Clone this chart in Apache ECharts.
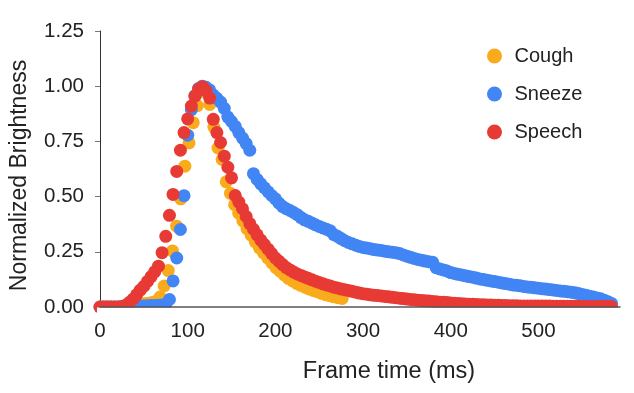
<!DOCTYPE html>
<html>
<head>
<meta charset="utf-8">
<script src="https://cdn.jsdelivr.net/npm/echarts@6/dist/echarts.min.js"></script>
<style>
  html, body { margin: 0; padding: 0; background: #fff; }
  #chart { width: 634px; height: 393px; }
</style>
</head>
<body>
<div id="chart"></div>
<script>
// frame times (ms) for sneeze + speech recordings
var frameTime = [
  0, 4.2, 8.3, 12.5, 16.7, 20.8, 25, 29.2, 33.3, 37.5,
  41.7, 45.8, 50, 54.2, 58.3, 62.5, 66.7, 70.8, 75, 79.2,
  83.3, 87.5, 91.7, 95.8, 100, 104.2, 108.3, 112.5, 116.7, 120.8,
  125, 129.2, 133.3, 137.5, 141.7, 145.8, 150, 154.2, 158.3, 162.5,
  166.7, 170.8, 175, 179.2, 183.3, 187.5, 191.7, 195.8, 200, 204.2,
  208.3, 212.5, 216.7, 220.8, 225, 229.2, 233.3, 237.5, 241.7, 245.8,
  250, 254.2, 258.3, 262.5, 266.7, 270.8, 275, 279.2, 283.3, 287.5,
  291.7, 295.8, 300, 304.2, 308.3, 312.5, 316.7, 320.8, 325, 329.2,
  333.3, 337.5, 341.7, 345.8, 350, 354.2, 358.3, 362.5, 366.7, 370.8,
  375, 379.2, 383.3, 387.5, 391.7, 395.8, 400, 404.2, 408.3, 412.5,
  416.7, 420.8, 425, 429.2, 433.3, 437.5, 441.7, 445.8, 450, 454.2,
  458.3, 462.5, 466.7, 470.8, 475, 479.2, 483.3, 487.5, 491.7, 495.8,
  500, 504.2, 508.3, 512.5, 516.7, 520.8, 525, 529.2, 533.3, 537.5,
  541.7, 545.8, 550, 554.2, 558.3, 562.5, 566.7, 570.8, 575, 579.2,
  583.3
];
var sneeze = [
  0, 0, 0, 0, 0, 0, 0, 0, 0, 0.001,
  0.003, 0.004, 0.005, 0.006, 0.007, 0.007, 0.008, 0.009, 0.012, 0.034,
  0.118, 0.222, 0.351, 0.504, 0.778, 0.894, 0.957, 0.99, 1.0, 0.995,
  0.983, 0.96, 0.945, 0.928, 0.9, 0.86, 0.84, 0.818, 0.79, 0.765,
  0.74, 0.71, 0.604, 0.578, 0.558, 0.54, 0.522, 0.505, 0.49, 0.47,
  0.455, 0.445, 0.437, 0.428, 0.418, 0.405, 0.395, 0.388, 0.38, 0.372,
  0.365, 0.358, 0.352, 0.345, 0.328, 0.32, 0.31, 0.3, 0.292, 0.286,
  0.28, 0.274, 0.27, 0.267, 0.264, 0.26, 0.258, 0.256, 0.253, 0.25,
  0.248, 0.246, 0.242, 0.236, 0.23, 0.225, 0.22, 0.215, 0.212, 0.208,
  0.205, 0.203, 0.178, 0.172, 0.168, 0.163, 0.156, 0.152, 0.148, 0.145,
  0.141, 0.138, 0.135, 0.131, 0.127, 0.124, 0.121, 0.118, 0.115, 0.112,
  0.109, 0.106, 0.103, 0.1, 0.098, 0.096, 0.093, 0.091, 0.089, 0.087,
  0.085, 0.083, 0.081, 0.079, 0.077, 0.075, 0.073, 0.071, 0.069, 0.067,
  0.064, 0.061, 0.057, 0.053, 0.049, 0.045, 0.041, 0.037, 0.031, 0.024,
  0.016
];
var speech = [
  0, 0, 0, 0, 0, 0, 0.002, 0.008, 0.02, 0.035,
  0.055, 0.076, 0.094, 0.116, 0.138, 0.16, 0.185, 0.246, 0.32, 0.415,
  0.51, 0.614, 0.71, 0.79, 0.852, 0.91, 0.955, 0.987, 0.998, 0.98,
  0.946, 0.85, 0.79, 0.745, 0.683, 0.633, 0.585, 0.505, 0.475, 0.445,
  0.41, 0.378, 0.352, 0.327, 0.303, 0.283, 0.262, 0.242, 0.222, 0.207,
  0.192, 0.178, 0.168, 0.158, 0.15, 0.143, 0.136, 0.13, 0.123, 0.117,
  0.111, 0.105, 0.1, 0.095, 0.09, 0.086, 0.082, 0.078, 0.075, 0.071,
  0.067, 0.063, 0.06, 0.058, 0.055, 0.053, 0.052, 0.05, 0.048, 0.046,
  0.044, 0.042, 0.04, 0.038, 0.036, 0.034, 0.033, 0.031, 0.03, 0.028,
  0.027, 0.025, 0.024, 0.022, 0.021, 0.02, 0.018, 0.017, 0.016, 0.015,
  0.014, 0.013, 0.012, 0.011, 0.01, 0.01, 0.009, 0.009, 0.008, 0.008,
  0.007, 0.007, 0.006, 0.006, 0.006, 0.005, 0.005, 0.005, 0.005, 0.004,
  0.004, 0.004, 0.004, 0.004, 0.003, 0.003, 0.003, 0.003, 0.003, 0.003,
  0.003, 0.003, 0.002, 0.002, 0.002, 0.002, 0.002, 0.002, 0.002, 0.002,
  0.002
];
// cough recording has its own frame times
var coughTime = [
  2.4, 7.1, 11.8, 16.5, 21.3, 26, 30.7, 35.4, 40.2, 44.9,
  49.6, 54.3, 59.1, 63.8, 68.5, 73.2, 77.9, 82.7, 87.4, 92.1,
  96.8, 101.5, 106.3, 111, 115.7, 120.4, 125.1, 129.9, 134.6, 139.3,
  144, 148.7, 153.5, 158.2, 162.9, 167.6, 172.4, 177.1, 181.8, 186.5,
  191.2, 196, 200.7, 205.4, 210.1, 214.8, 219.6, 224.3, 229, 233.7,
  238.4, 243.2, 247.9, 252.6, 257.3, 262, 266.8, 271.5, 276.2
];
var cough = [
  0, 0, 0, 0, 0, 0, 0, 0, 0.005, 0.012,
  0.015, 0.017, 0.02, 0.025, 0.045, 0.095, 0.165, 0.254, 0.366, 0.49,
  0.638, 0.743, 0.835, 0.912, 0.975, 0.995, 0.917, 0.815, 0.72, 0.668,
  0.567, 0.515, 0.463, 0.425, 0.39, 0.355, 0.325, 0.295, 0.268, 0.245,
  0.222, 0.2, 0.178, 0.162, 0.145, 0.13, 0.118, 0.107, 0.098, 0.09,
  0.082, 0.075, 0.069, 0.062, 0.056, 0.051, 0.046, 0.042, 0.039
];
var seriesNames = ['Cough', 'Sneeze', 'Speech'];
var colors = ['#f9ab1c', '#4285f4', '#e83a35'];

function pairs(xs, ys) {
  var out = [];
  for (let i = 0; i < ys.length; i++) out.push([xs[i], ys[i]]);
  return out;
}

var font = 'Liberation Sans, Arial, sans-serif';
var gridBottom = 86;

var chart = echarts.init(document.getElementById('chart'), null, { renderer: 'canvas' });
var option = {
  animation: false,
  backgroundColor: '#fff',
  textStyle: { fontFamily: font },
  color: colors,
  grid: { left: 98, right: 14, top: 31, bottom: gridBottom, containLabel: false },
  legend: {
    orient: 'vertical',
    left: 482,
    top: 41,
    icon: 'circle',
    itemWidth: 30,
    itemHeight: 15,
    itemGap: 18,
    textStyle: { fontSize: 20, color: '#222', fontFamily: font },
    data: seriesNames
  },
  xAxis: {
    type: 'value',
    min: 0,
    max: 593,
    interval: 100,
    z: 10,
    name: 'Frame time (ms)',
    nameLocation: 'middle',
    nameGap: 53,
    nameTextStyle: { fontSize: 23.5, color: '#222', fontFamily: font, padding: [0, 0, 0, 58] },
    axisLine: { show: true, lineStyle: { color: '#555', width: 1.5 } },
    axisTick: { show: false },
    splitLine: { show: false },
    axisLabel: { fontSize: 20.5, color: '#222', margin: 14, showMaxLabel: false }
  },
  yAxis: {
    type: 'value',
    min: 0,
    max: 1.25,
    interval: 0.25,
    name: 'Normalized Brightness',
    nameLocation: 'middle',
    nameGap: 69,
    nameTextStyle: { fontSize: 23, color: '#222', fontFamily: font, padding: [0, 13, 0, 0] },
    axisLine: { show: true, lineStyle: { color: '#333', width: 1 } },
    axisTick: { show: true, length: 5, lineStyle: { color: '#777' } },
    splitLine: { show: false },
    axisLabel: {
      fontSize: 20.5, color: '#222', margin: 16,
      formatter: function (v) { return v.toFixed(2); }
    }
  },
  // white strip under the x axis: the reference clips dots at the plot edge
  graphic: [{
    type: 'rect',
    z: 3,
    left: 97,
    top: 393 - gridBottom + 0.6,
    shape: { width: 537, height: 24 },
    style: { fill: '#fff' }
  }],
  series: [
    { name: 'Cough', type: 'scatter', symbolSize: 13, data: pairs(coughTime, cough), itemStyle: { opacity: 1 } },
    { name: 'Sneeze', type: 'scatter', symbolSize: 13, data: pairs(frameTime, sneeze), itemStyle: { opacity: 1 } },
    { name: 'Speech', type: 'scatter', symbolSize: 13, data: pairs(frameTime, speech), itemStyle: { opacity: 1 } }
  ]
};
chart.setOption(option);
</script>
</body>
</html>
